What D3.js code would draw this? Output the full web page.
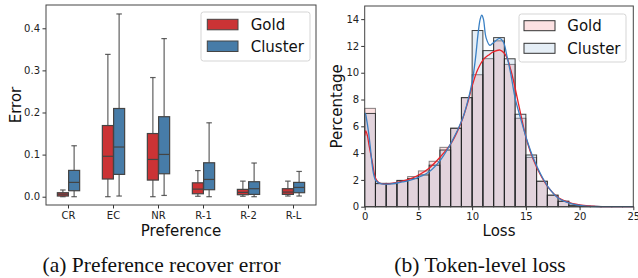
<!DOCTYPE html>
<html><head><meta charset="utf-8">
<script src="https://cdn.jsdelivr.net/npm/d3@7"></script>
<style>
html,body{margin:0;padding:0;background:#fff;}
svg{display:block;}
text{font-family:"DejaVu Sans",sans-serif;}
</style></head>
<body><svg id="c" width="638" height="278"></svg>
<script>
// ---------- Data: (a) Preference recover error ----------
const categories = ["CR", "EC", "NR", "R-1", "R-2", "R-L"];
const seriesNames = ["Gold", "Cluster"];
// [whisker low, q1, median, q3, whisker high]
const goldBoxes = [
  [0.000, 0.0016, 0.006, 0.0095, 0.016],
  [0.000, 0.042, 0.096, 0.169, 0.338],
  [0.000, 0.0395, 0.0885, 0.150, 0.283],
  [0.001, 0.007, 0.018, 0.033, 0.062],
  [0.001, 0.0047, 0.0103, 0.0174, 0.037],
  [0.0016, 0.0055, 0.011, 0.019, 0.037]
];
const clusterBoxes = [
  [0.000, 0.0142, 0.034, 0.0625, 0.121],
  [0.0016, 0.053, 0.118, 0.2095, 0.434],
  [0.003, 0.0545, 0.1004, 0.190, 0.3755],
  [0.000, 0.0166, 0.041, 0.0806, 0.1755],
  [0.000, 0.0055, 0.019, 0.0356, 0.080],
  [0.0016, 0.0095, 0.022, 0.034, 0.060]
];
const errorTicks = [0.0, 0.1, 0.2, 0.3, 0.4];

// ---------- Data: (b) Token-level loss ----------
const binEdges = d3.range(0, 26, 1);
const goldHist = [7.34, 1.75, 1.75, 1.97, 2.25, 2.67, 3.39, 4.43, 5.87, 8.14, 9.85, 11.05, 12.38, 10.62, 6.60, 3.68, 1.90, 0.86, 0.42, 0.12, 0.04, 0.02, 0.01, 0.01, 0.005];
const clusterHist = [6.96, 1.72, 1.72, 1.95, 2.10, 2.37, 3.10, 4.23, 5.85, 8.14, 13.15, 11.65, 12.62, 11.04, 6.90, 3.86, 1.90, 0.86, 0.40, 0.10, 0.03, 0.01, 0.005, 0.005, 0.002];
const goldKde = [[0,5.3],[0.1,5.65],[0.25,5.3],[0.4,4.6],[0.68,3.45],[1.0,2.15],[1.3,1.8],[1.6,1.72],[2.0,1.7],[2.5,1.74],[3.0,1.81],[3.5,1.91],[4.1,2.04],[5.03,2.37],[5.96,2.86],[7.05,3.73],[8.14,4.85],[9.07,6.47],[9.6,7.8],[10.0,9.0],[10.5,10.2],[11.06,11.0],[11.5,11.3],[12.0,11.57],[12.6,11.69],[13.0,11.45],[13.3,11.0],[13.6,10.2],[13.85,9.4],[14.47,7.1],[15.1,4.9],[15.7,3.5],[16.34,2.4],[17.1,1.42],[18.04,0.66],[19.13,0.28],[20.4,0.09],[21.5,0.03],[23,0.01],[25,0.0]];
const clusterKde = [[0,6.9],[0.06,6.97],[0.18,6.5],[0.35,5.6],[0.5,4.6],[0.7,3.1],[0.85,2.35],[1.0,2.0],[1.3,1.78],[1.6,1.71],[2.0,1.69],[2.5,1.71],[3.0,1.77],[3.5,1.85],[4.1,1.94],[5.0,2.19],[6.0,2.61],[7.05,3.48],[8.1,4.85],[9.07,6.5],[9.5,7.6],[10.0,9.3],[10.3,11.0],[10.55,12.9],[10.75,14.0],[10.9,14.3],[11.05,14.0],[11.3,12.6],[11.65,12.05],[12.0,12.25],[12.55,12.56],[12.9,12.3],[13.25,11.2],[13.6,9.9],[14.0,8.1],[14.47,6.7],[15.1,4.98],[15.7,3.61],[16.34,2.49],[17.1,1.45],[18.04,0.63],[19.13,0.25],[20.4,0.06],[22,0.01],[25,0.0]];
const lossTicks = [0, 5, 10, 15, 20, 25];
const pctTicks = [0, 2, 4, 6, 8, 10, 12, 14];

const captions = ["(a) Preference recover error", "(b) Token-level loss"];

// ---------- Drawing ----------
const svg = d3.select("#c");
const boxColors = ["#cb3335", "#477ca8"];
const edge = "#444";

// ===== Panel (a) =====
const A = {l:46, r:316, t:5, b:205};
const xA = d3.scaleBand().domain(categories).range([A.l, A.r]).padding(0);
const yA = d3.scaleLinear().domain([-0.0197, 0.4553]).range([A.b, A.t]);
const gA = svg.append("g");

gA.append("g").attr("transform", `translate(0,${A.b})`)
  .call(d3.axisBottom(xA).tickSize(3.5).tickPadding(3.5))
  .call(g => { g.select(".domain").remove(); g.selectAll("line").attr("stroke", "#333");
    g.selectAll("text").attr("font-size", 10).attr("fill", "#222").attr("font-family","DejaVu Sans"); });
gA.append("g").attr("transform", `translate(${A.l},0)`)
  .call(d3.axisLeft(yA).tickValues(errorTicks).tickFormat(d3.format(".1f")).tickSize(3.5).tickPadding(2.5))
  .call(g => { g.select(".domain").remove(); g.selectAll("line").attr("stroke", "#333");
    g.selectAll("text").attr("font-size", 10).attr("fill", "#222").attr("font-family","DejaVu Sans"); });

const bw = xA.bandwidth();
const boxW = bw * 0.245;
[goldBoxes, clusterBoxes].forEach((arr, si) => {
  const off = (si === 0 ? -1 : 1) * bw * 0.125;
  arr.forEach((s, i) => {
    const cx = xA(categories[i]) + bw / 2 + off;
    const g = gA.append("g");
    // whiskers
    g.append("line").attr("x1", cx).attr("x2", cx).attr("y1", yA(s[0])).attr("y2", yA(s[1])).attr("stroke", edge).attr("stroke-width", 1.2).attr("opacity", 0.85);
    g.append("line").attr("x1", cx).attr("x2", cx).attr("y1", yA(s[3])).attr("y2", yA(s[4])).attr("stroke", edge).attr("stroke-width", 1.2).attr("opacity", 0.85);
    // caps
    [s[0], s[4]].forEach(v => g.append("line").attr("x1", cx - boxW / 4).attr("x2", cx + boxW / 4).attr("y1", yA(v)).attr("y2", yA(v)).attr("stroke", edge).attr("stroke-width", 1.2).attr("opacity", 0.85));
    // box
    g.append("rect").attr("x", cx - boxW / 2).attr("width", boxW).attr("y", yA(s[3])).attr("height", yA(s[1]) - yA(s[3]))
      .attr("fill", boxColors[si]).attr("stroke", edge).attr("stroke-width", 1.2);
    g.append("line").attr("x1", cx - boxW / 2).attr("x2", cx + boxW / 2).attr("y1", yA(s[2])).attr("y2", yA(s[2])).attr("stroke", edge).attr("stroke-width", 1.2);
  });
});
gA.append("rect").attr("x", A.l).attr("y", A.t).attr("width", A.r - A.l).attr("height", A.b - A.t)
  .attr("fill", "none").attr("stroke", "#444").attr("stroke-width", 1);

gA.append("text").attr("x", (A.l + A.r) / 2).attr("y", 236).attr("text-anchor", "middle").attr("font-size", 15).attr("fill", "#111").text("Preference");
gA.append("text").attr("transform", `translate(20.5,${(A.t + A.b) / 2}) rotate(-90)`).attr("text-anchor", "middle").attr("font-size", 15).attr("fill", "#111").text("Error");

// legend (a)
const lgA = gA.append("g");
lgA.append("rect").attr("x", 201).attr("y", 12).attr("width", 109).attr("height", 49).attr("rx", 2.5)
  .attr("fill", "#fff").attr("fill-opacity", 0.8).attr("stroke", "#d5d5d5").attr("stroke-width", 1);
seriesNames.forEach((n, i) => {
  const y0 = 19.3 + i * 21.7;
  lgA.append("rect").attr("x", 207.3).attr("y", y0).attr("width", 30.7).attr("height", 10.5).attr("fill", boxColors[i]).attr("stroke", edge).attr("stroke-width", 1);
  lgA.append("text").attr("x", 250.7).attr("y", y0 + 10.5).attr("font-size", 15).attr("fill", "#111").text(n);
});

// ===== Panel (b) =====
const B = {l:364.7, r:633.3, t:6, b:206.7};
const xB = d3.scaleLinear().domain([0, 25]).range([B.l, B.r]);
const yB = d3.scaleLinear().domain([0, 14.98]).range([B.b, B.t]);
const gB = svg.append("g");
const histFill = ["rgb(228,26,28)", "rgb(55,126,184)"];
const kdeColor = ["#e8222a", "#3a80c4"];

[goldHist, clusterHist].forEach((h, si) => {
  gB.append("g").selectAll("rect").data(h).join("rect")
    .attr("x", (d, i) => xB(binEdges[i]))
    .attr("width", (d, i) => xB(binEdges[i + 1]) - xB(binEdges[i]))
    .attr("y", d => yB(d))
    .attr("height", d => yB(0) - yB(d))
    .attr("fill", histFill[si]).attr("fill-opacity", 0.13)
    .attr("stroke", "#222").attr("stroke-opacity", si === 0 ? 0.55 : 0.85).attr("stroke-width", 1);
});
const line = d3.line().x(d => xB(d[0])).y(d => yB(d[1])).curve(d3.curveCatmullRom.alpha(0.5));
[goldKde, clusterKde].forEach((k, si) => {
  gB.append("path").attr("d", line(k)).attr("fill", "none").attr("stroke", kdeColor[si]).attr("stroke-width", 1.3);
});

gB.append("g").attr("transform", `translate(0,${B.b})`)
  .call(d3.axisBottom(xB).tickValues(lossTicks).tickFormat(d3.format("d")).tickSize(3.5).tickPadding(2.5))
  .call(g => { g.select(".domain").remove(); g.selectAll("line").attr("stroke", "#333");
    g.selectAll("text").attr("font-size", 10).attr("fill", "#222").attr("font-family","DejaVu Sans"); });
gB.append("g").attr("transform", `translate(${B.l},0)`)
  .call(d3.axisLeft(yB).tickValues(pctTicks).tickFormat(d3.format("d")).tickSize(3.5).tickPadding(2))
  .call(g => { g.select(".domain").remove(); g.selectAll("line").attr("stroke", "#333");
    g.selectAll("text").attr("font-size", 10).attr("fill", "#222").attr("font-family","DejaVu Sans"); });
gB.append("rect").attr("x", B.l).attr("y", B.t).attr("width", B.r - B.l).attr("height", B.b - B.t)
  .attr("fill", "none").attr("stroke", "#444").attr("stroke-width", 1);

gB.append("text").attr("x", (B.l + B.r) / 2).attr("y", 236).attr("text-anchor", "middle").attr("font-size", 15).attr("fill", "#111").text("Loss");
gB.append("text").attr("transform", `translate(342,${(B.t + B.b) / 2}) rotate(-90)`).attr("text-anchor", "middle").attr("font-size", 15).attr("fill", "#111").text("Percentage");

// legend (b)
const lgB = gB.append("g");
lgB.append("rect").attr("x", 519).attr("y", 14).attr("width", 107).attr("height", 48).attr("rx", 2.5)
  .attr("fill", "#fff").attr("fill-opacity", 0.8).attr("stroke", "#d5d5d5").attr("stroke-width", 1);
seriesNames.forEach((n, i) => {
  const y0 = 20.7 + i * 22.6;
  lgB.append("rect").attr("x", 524).attr("y", y0).attr("width", 31).attr("height", 10)
    .attr("fill", histFill[i]).attr("fill-opacity", 0.13).attr("stroke", "#333").attr("stroke-width", 1);
  lgB.append("text").attr("x", 567.3).attr("y", y0 + 10.5).attr("font-size", 15).attr("fill", "#111").text(n);
});

// captions
svg.append("text").attr("x", 161.6).attr("y", 272).attr("text-anchor", "middle")
  .attr("font-family", "Liberation Serif, Times New Roman, serif").style("font-family", "'Liberation Serif', serif")
  .attr("font-size", 21.5).attr("fill", "#111").text(captions[0]);
svg.append("text").attr("x", 480).attr("y", 272).attr("text-anchor", "middle")
  .style("font-family", "'Liberation Serif', serif")
  .attr("font-size", 21.5).attr("fill", "#111").text(captions[1]);
</script></body></html>
